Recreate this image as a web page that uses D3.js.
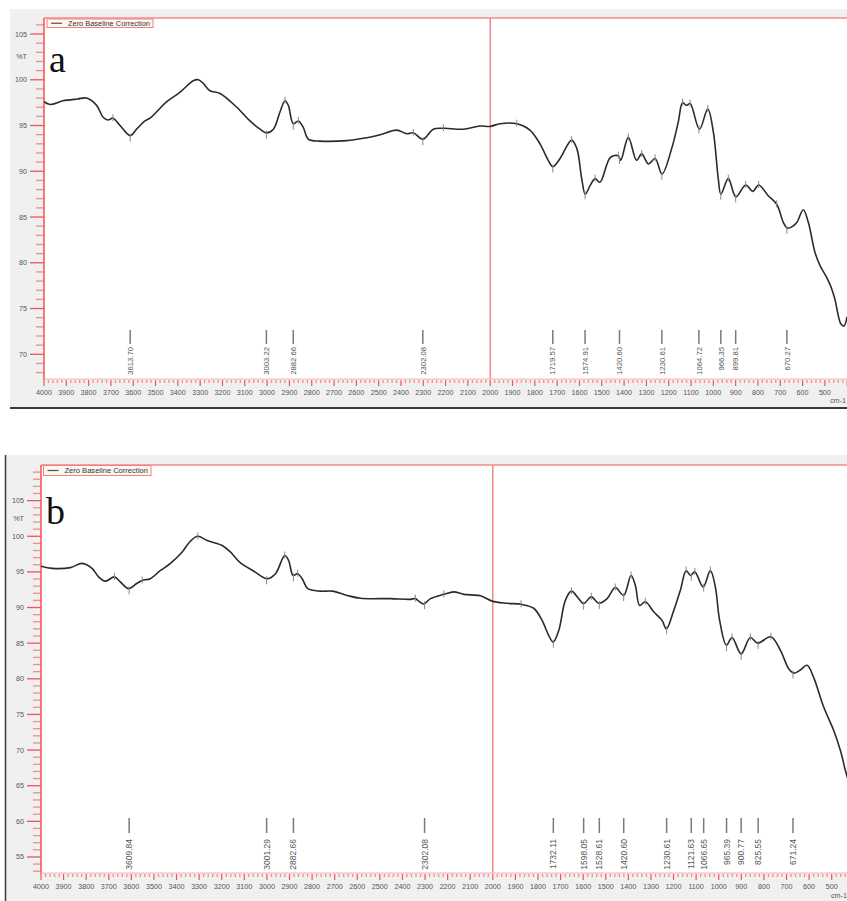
<!DOCTYPE html>
<html>
<head>
<meta charset="utf-8">
<script src="https://cdn.jsdelivr.net/npm/d3@7/dist/d3.min.js"></script>
<style>
  html, body { margin: 0; padding: 0; background: #ffffff; }
  svg { display: block; font-family: "Liberation Sans", Arial, sans-serif; }
</style>
</head>
<body>
<svg id="chart" width="847" height="901"></svg>
<script>
// ---- Spectrum a: wavenumber (cm-1) and transmittance (%T) ----
const waveA = [4000, 3973, 3915, 3850, 3809, 3764, 3735, 3713, 3691, 3659, 3614, 3585, 3547, 3525, 3495, 3450,
  3390, 3331, 3308, 3286, 3256, 3211, 3136, 3077, 3032, 3003, 2972, 2942, 2920, 2905, 2883, 2860, 2838, 2815,
  2763, 2643, 2569, 2494, 2419, 2374, 2345, 2302, 2255, 2210, 2121, 2046, 2001, 1956, 1881, 1822, 1777, 1740,
  1719, 1687, 1635, 1612, 1590, 1574, 1553, 1530, 1508, 1462, 1426, 1415, 1381, 1344, 1321, 1291, 1261, 1230,
  1187, 1157, 1138, 1120, 1104, 1062, 1025, 1000, 978, 966, 933, 899, 855, 823, 797, 753, 716, 686, 670, 650,
  626, 597, 574, 544, 520, 492, 470, 455, 428, 414, 401];
const transA = [97.6, 97.3, 97.7, 97.9, 98.0, 97.2, 95.9, 95.6, 95.8, 95.0, 93.9, 94.6, 95.5, 95.8, 96.5, 97.6,
  98.65, 99.9, 100.0, 99.6, 98.8, 98.5, 97.0, 95.5, 94.6, 94.2, 94.6, 96.5, 97.7, 97.2, 95.2, 95.5, 94.8, 93.5,
  93.3, 93.35, 93.6, 94.0, 94.5, 94.1, 94.2, 93.5, 94.6, 94.7, 94.6, 94.95, 94.9, 95.2, 95.2, 94.5, 93.0, 91.2,
  90.5, 91.4, 93.4, 92.5, 89.2, 87.5, 88.4, 89.2, 88.8, 91.5, 91.7, 91.2, 93.7, 91.2, 91.9, 90.8, 91.4, 89.7,
  92.45, 95.4, 97.5, 97.2, 97.4, 94.6, 96.8, 94.3, 89.2, 87.5, 89.2, 87.2, 88.5, 87.8, 88.5, 87.3, 86.4, 84.4, 83.8, 83.9,
  84.4, 85.8, 84.4, 81.1, 79.6, 78.4, 77.2, 76.0, 73.3, 73.1, 74.1];

// ---- Spectrum b ----
const waveB = [4000, 3951, 3870, 3818, 3774, 3745, 3715, 3675, 3649, 3612, 3575, 3552, 3516, 3471, 3427, 3375,
  3339, 3306, 3265, 3198, 3162, 3117, 3058, 2999, 2962, 2921, 2904, 2884, 2864, 2844, 2819, 2763, 2711, 2645,
  2586, 2453, 2365, 2343, 2328, 2306, 2276, 2217, 2173, 2129, 2055, 2003, 1937, 1875, 1819, 1782, 1753, 1733,
  1708, 1679, 1652, 1620, 1598, 1564, 1531, 1494, 1458, 1421, 1388, 1369, 1350, 1325, 1288, 1251, 1232, 1199,
  1170, 1144, 1125, 1106, 1069, 1037, 1015, 996, 966, 941, 901, 860, 828, 769, 727, 690, 668, 640, 609, 580,
  535, 491, 461, 439, 425];
const transB = [95.8, 95.5, 95.6, 96.2, 95.5, 94.3, 93.7, 94.3, 93.6, 92.65, 93.4, 93.8, 94.05, 95.2, 96.2, 97.8,
  99.3, 100.0, 99.4, 98.7, 97.8, 96.25, 95.1, 94.05, 94.75, 97.3, 96.6, 94.5, 94.75, 94.05, 92.65, 92.3, 92.3, 91.7,
  91.3, 91.25, 91.15, 91.25, 90.9, 90.5, 91.25, 91.85, 92.2, 91.85, 91.65, 90.9, 90.6, 90.45, 89.9, 88.2, 86.1, 85.15,
  86.8, 91.0, 92.3, 91.25, 90.55, 91.5, 90.6, 91.25, 92.8, 91.7, 94.5, 93.1, 90.3, 90.8, 89.4, 88.2, 87.0, 89.6,
  92.4, 95.2, 94.5, 95.0, 92.9, 95.2, 92.9, 88.2, 84.7, 85.8, 83.5, 85.8, 85.0, 85.9, 84.0, 81.4, 80.8, 81.2, 81.9, 80.2,
  76.0, 72.75, 69.9, 67.1, 65.6];

// ---- Picked peaks (labelled) ----
const peaksA = ["3613.70", "3003.22", "2882.66", "2302.08", "1719.57", "1574.91", "1420.60", "1230.61",
  "1064.72", "966.35", "899.81", "670.27"];
const peaksB = ["3609.84", "3001.29", "2882.66", "2302.08", "1732.11", "1598.05", "1528.61", "1420.60",
  "1230.61", "1121.63", "1066.65", "965.39", "900.77", "825.55", "671.24"];

// ---- Additional peak-pick marks on the trace (unlabelled) ----
const marksA = [3691, 2920, 2860, 2345, 2210, 1881, 1635, 1530, 1426, 1381, 1321, 1261, 1138, 1104, 1025, 933, 855, 797, 716];
const marksB = [3675, 3552, 3306, 2921, 2864, 2343, 2217, 1875, 1652, 1564, 1458, 1388, 1325, 1144, 1106, 1037, 941, 860, 769];

// ---- Axis ticks ----
const xMajor = d3.range(4000, 499, -100);
const xMinor = d3.range(4000, 399, -20);
const yMajorA = [70, 75, 80, 85, 90, 95, 100, 105];
const yMajorB = [55, 60, 65, 70, 75, 80, 85, 90, 95, 100, 105];
const legendText = "Zero Baseline Correction";

const svg = d3.select("#chart");

function valueAt(waves, vals, w) {
  for (let i = 0; i < waves.length - 1; i++) {
    if (w <= waves[i] && w >= waves[i + 1]) {
      const t = (waves[i] - w) / (waves[i] - waves[i + 1]);
      return vals[i] + t * (vals[i + 1] - vals[i]);
    }
  }
  return vals[vals.length - 1];
}

function drawPanel(cfg) {
  const g = svg.append("g");
  const x = d3.scaleLinear().domain(cfg.xDomain).range([cfg.left, cfg.right]);
  const y = d3.scaleLinear().domain(cfg.yDomain).range([cfg.bottom, cfg.top]);
  const pink = "#f78a8a", red = "#f25555";

  // window frame
  g.append("rect").attr("x", cfg.frame[0]).attr("y", cfg.frame[1])
    .attr("width", cfg.frame[2]).attr("height", cfg.frame[3]).attr("fill", "#f0f0f0");
  if (cfg.darkBottom) {
    g.append("line").attr("x1", cfg.frame[0]).attr("x2", 847)
      .attr("y1", cfg.darkBottom).attr("y2", cfg.darkBottom)
      .attr("stroke", "#3a3a3a").attr("stroke-width", 2);
  }
  if (cfg.darkLeft) {
    g.append("line").attr("x1", cfg.darkLeft).attr("x2", cfg.darkLeft)
      .attr("y1", cfg.frame[1]).attr("y2", 901)
      .attr("stroke", "#3a3a3a").attr("stroke-width", 1.5);
  }
  // plot area
  g.append("rect").attr("x", cfg.left).attr("y", cfg.top)
    .attr("width", 847 - cfg.left).attr("height", cfg.bottom - cfg.top).attr("fill", "#ffffff");

  // top border
  g.append("line").attr("x1", cfg.left).attr("x2", 847).attr("y1", cfg.top).attr("y2", cfg.top)
    .attr("stroke", red).attr("stroke-width", 1.2);

  // 2000 cm-1 divider
  g.append("line").attr("x1", x(2000)).attr("x2", x(2000)).attr("y1", cfg.top).attr("y2", cfg.bottom)
    .attr("stroke", "#f46a6a").attr("stroke-width", 1.2);

  // y axis
  const yMinor = d3.range(Math.ceil(cfg.yDomain[0]), Math.ceil(cfg.yDomain[1]));
  g.selectAll(null).data(yMinor.filter(v => !cfg.yMajor.includes(v))).enter().append("line")
    .attr("x1", cfg.left - 8).attr("x2", cfg.left).attr("y1", d => y(d)).attr("y2", d => y(d))
    .attr("stroke", pink).attr("stroke-width", 1.3);
  g.selectAll(null).data(cfg.yMajor).enter().append("line")
    .attr("x1", cfg.left - 14).attr("x2", cfg.left).attr("y1", d => y(d)).attr("y2", d => y(d))
    .attr("stroke", red).attr("stroke-width", 1.3);
  g.selectAll(null).data(cfg.yMajor).enter().append("text")
    .attr("x", cfg.left - 17).attr("y", d => y(d)).attr("dy", "0.35em")
    .attr("text-anchor", "end").attr("font-size", 7.2).attr("fill", "#555").text(d => d);
  g.append("text").attr("x", cfg.left - 17).attr("y", y(102.5)).attr("dy", "0.35em")
    .attr("text-anchor", "end").attr("font-size", 7.2).attr("fill", "#555").text("%T");
  g.append("line").attr("x1", cfg.left).attr("x2", cfg.left).attr("y1", cfg.top).attr("y2", cfg.bottom + 1)
    .attr("stroke", red).attr("stroke-width", 1.5);

  // x axis
  g.append("line").attr("x1", cfg.left).attr("x2", 847).attr("y1", cfg.bottom).attr("y2", cfg.bottom)
    .attr("stroke", "#f9b0b0").attr("stroke-width", 1);
  g.selectAll(null).data(xMinor.filter(v => v % 100 !== 0)).enter().append("line")
    .attr("x1", d => x(d)).attr("x2", d => x(d)).attr("y1", cfg.bottom + 1).attr("y2", cfg.bottom + 4)
    .attr("stroke", pink).attr("stroke-width", 1.3);
  g.selectAll(null).data(xMinor.filter(v => v % 100 === 0)).enter().append("line")
    .attr("x1", d => x(d)).attr("x2", d => x(d)).attr("y1", cfg.bottom + 1).attr("y2", cfg.bottom + 7)
    .attr("stroke", red).attr("stroke-width", 1.2);
  g.selectAll(null).data(xMajor).enter().append("text")
    .attr("x", d => x(d)).attr("y", cfg.bottom + 15.5)
    .attr("text-anchor", "middle").attr("font-size", 7.2).attr("fill", "#555").text(d => d);
  g.append("text").attr("x", cfg.cmX).attr("y", cfg.cmY).attr("font-size", 7.2).attr("fill", "#555").text("cm-1");

  // spectrum trace
  const clipId = "clip-" + cfg.name;
  g.append("clipPath").attr("id", clipId).append("rect")
    .attr("x", cfg.left).attr("y", cfg.top).attr("width", 847 - cfg.left).attr("height", cfg.bottom - cfg.top);
  const pts = cfg.waves.map((w, i) => [w, cfg.vals[i]]);
  const line = d3.line().x(d => x(d[0])).y(d => y(d[1])).curve(d3.curveCatmullRom.alpha(0.5));
  g.append("path").datum(pts).attr("clip-path", `url(#${clipId})`)
    .attr("d", line).attr("fill", "none").attr("stroke", "#2b2b2b").attr("stroke-width", 1.6)
    .attr("stroke-linejoin", "round");

  // peak-pick marks
  g.selectAll(null).data(cfg.marks).enter().append("line")
    .attr("x1", d => x(d)).attr("x2", d => x(d))
    .attr("y1", d => y(valueAt(cfg.waves, cfg.vals, d)) - 4)
    .attr("y2", d => y(valueAt(cfg.waves, cfg.vals, d)) + 3)
    .attr("stroke", "#888").attr("stroke-width", 1);
  g.selectAll(null).data(cfg.peaks).enter().append("line")
    .attr("x1", d => x(+d)).attr("x2", d => x(+d))
    .attr("y1", d => y(valueAt(cfg.waves, cfg.vals, +d)) - 2)
    .attr("y2", d => y(valueAt(cfg.waves, cfg.vals, +d)) + 6)
    .attr("stroke", "#888").attr("stroke-width", 1);

  // peak labels
  g.selectAll(null).data(cfg.peaks).enter().append("line")
    .attr("x1", d => x(+d)).attr("x2", d => x(+d)).attr("y1", cfg.pkLine[0]).attr("y2", cfg.pkLine[1])
    .attr("stroke", "#7a7a7a").attr("stroke-width", 1.5);
  g.selectAll(null).data(cfg.peaks).enter().append("text")
    .attr("transform", d => `translate(${x(+d)},${cfg.pkText}) rotate(-90)`)
    .attr("dy", "0.35em").attr("text-anchor", "end")
    .attr("font-size", cfg.pkFont).attr("fill", "#555").text(d => d);

  // legend
  const lg = g.append("g");
  lg.append("rect").attr("x", cfg.legend[0]).attr("y", cfg.legend[1])
    .attr("width", cfg.legend[2]).attr("height", cfg.legend[3])
    .attr("fill", "#fdf7f2").attr("stroke", "#f28080").attr("stroke-width", 1);
  lg.append("line").attr("x1", cfg.legend[0] + 4).attr("x2", cfg.legend[0] + 15)
    .attr("y1", cfg.legend[1] + cfg.legend[3] / 2).attr("y2", cfg.legend[1] + cfg.legend[3] / 2)
    .attr("stroke", "#55523a").attr("stroke-width", 1.2);
  lg.append("text").attr("x", cfg.legend[0] + 21).attr("y", cfg.legend[1] + cfg.legend[3] / 2)
    .attr("dy", "0.35em").attr("font-size", 7.6).attr("fill", "#333")
    .attr("textLength", cfg.legend[2] - 24).attr("lengthAdjust", "spacingAndGlyphs").text(legendText);

  // panel letter
  g.append("text").attr("x", cfg.letterPos[0]).attr("y", cfg.letterPos[1])
    .style("font-family", "'Liberation Serif', 'DejaVu Serif', serif").attr("font-size", 38)
    .attr("fill", "#111").text(cfg.name);
}

drawPanel({
  name: "a", waves: waveA, vals: transA, peaks: peaksA, marks: marksA,
  frame: [10, 9, 837, 399], darkBottom: 408, darkLeft: null,
  left: 44, right: 847.2, top: 18, bottom: 379,
  xDomain: [4000, 400], yDomain: [67.3, 106.75], yMajor: yMajorA,
  pkLine: [330, 344], pkText: 347, pkFont: 7.7,
  legend: [47, 19, 106, 8.5], letterPos: [49, 72], cmX: 830, cmY: 403
});

drawPanel({
  name: "b", waves: waveB, vals: transB, peaks: peaksB, marks: marksB,
  frame: [6, 455, 841, 446], darkBottom: null, darkLeft: 5.5,
  left: 41, right: 847.5, top: 465, bottom: 873,
  xDomain: [4000, 430], yDomain: [52.75, 110], yMajor: yMajorB,
  pkLine: [818, 833], pkText: 839, pkFont: 8.5,
  legend: [43.5, 465.5, 107.5, 10], letterPos: [46, 524], cmX: 831, cmY: 898
});
</script>
</body>
</html>
